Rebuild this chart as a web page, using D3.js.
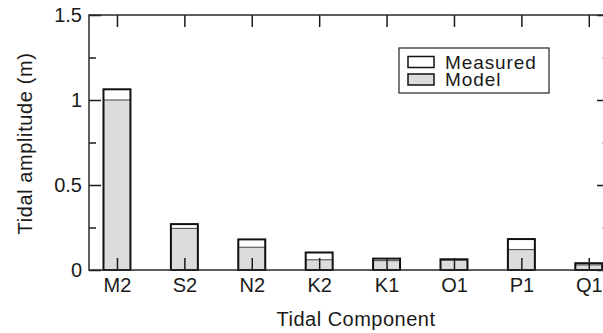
<!DOCTYPE html>
<html>
<head>
<meta charset="utf-8">
<script src="https://cdn.jsdelivr.net/npm/d3@7"></script>
<style>
  html, body { margin: 0; padding: 0; background: #fff; }
  svg { display: block; font-family: "Liberation Sans", Arial, Helvetica, sans-serif; }
</style>
</head>
<body>
<svg id="chart" width="603" height="333"></svg>
<script>
// Tidal constituents and amplitudes (m)
const components = ["M2", "S2", "N2", "K2", "K1", "O1", "P1", "Q1"];
const measured   = [1.063, 0.270, 0.180, 0.103, 0.067, 0.063, 0.182, 0.040];
const model      = [1.000, 0.245, 0.134, 0.060, 0.055, 0.058, 0.120, 0.030];
const yMajorTicks = [0, 0.5, 1, 1.5];
const yMinorTicks = [0.25, 0.75, 1.25];
const seriesNames = ["Measured", "Model"];

(function () {
const ink = "#1a1a1a";
const modelFill = "#dcdcdc";

const svg = d3.select("#chart");
const plotL = 89, plotR = 609, plotT = 15, plotB = 270;

// category k sits at position k+1 on a linear axis
const x = d3.scaleLinear().domain([0.585, 8.3]).range([plotL, plotR]);
const y = d3.scaleLinear().domain([0, 1.5]).range([plotB, plotT]);
const barW = x(1.4) - x(1.0);

const data = components.map((c, i) => ({ c, pos: i + 1, meas: measured[i], mod: model[i] }));

// bars: measured (white) behind, model (grey) in front, measured outline on top
const bars = svg.append("g");
bars.selectAll("rect.meas").data(data).join("rect")
  .attr("x", d => x(d.pos) - barW / 2).attr("width", barW)
  .attr("y", d => y(d.meas)).attr("height", d => y(0) - y(d.meas))
  .attr("fill", "#fff");
bars.selectAll("rect.mod").data(data).join("rect")
  .attr("x", d => x(d.pos) - barW / 2).attr("width", barW)
  .attr("y", d => y(d.mod)).attr("height", d => y(0) - y(d.mod))
  .attr("fill", modelFill).attr("stroke", "#444").attr("stroke-width", 1);
bars.selectAll("rect.outline").data(data).join("rect")
  .attr("x", d => x(d.pos) - barW / 2).attr("width", barW)
  .attr("y", d => y(d.meas)).attr("height", d => y(0) - y(d.meas))
  .attr("fill", "none").attr("stroke", "#111").attr("stroke-width", 2);

function styleAxis(g) {
  g.select(".domain").remove();
  g.selectAll("line").attr("stroke", ink).attr("stroke-width", 1.5);
  g.selectAll("text").attr("fill", ink).attr("font-size", 20);
}

// bottom axis with category labels, ticks pointing inward
svg.append("g").attr("transform", `translate(0,${plotB})`)
  .call(d3.axisBottom(x).tickValues(data.map(d => d.pos))
    .tickFormat((d, i) => components[i]).tickSizeInner(-12).tickSizeOuter(0).tickPadding(8))
  .call(styleAxis);

// top axis ticks
svg.append("g").attr("transform", `translate(0,${plotT})`)
  .call(d3.axisTop(x).tickValues(data.map(d => d.pos)).tickFormat("")
    .tickSizeInner(-12).tickSizeOuter(0))
  .call(styleAxis);

// left axis with labels
svg.append("g").attr("transform", `translate(${plotL},0)`)
  .call(d3.axisLeft(y).tickValues(yMajorTicks).tickFormat(d3.format("~g"))
    .tickSizeInner(-12).tickSizeOuter(0).tickPadding(7))
  .call(styleAxis);
svg.append("g").attr("transform", `translate(${plotL},0)`)
  .call(d3.axisLeft(y).tickValues(yMinorTicks).tickFormat("")
    .tickSizeInner(-7).tickSizeOuter(0))
  .call(styleAxis);

// right axis ticks
svg.append("g").attr("transform", `translate(${plotR},0)`)
  .call(d3.axisRight(y).tickValues(yMajorTicks).tickFormat("")
    .tickSizeInner(-12).tickSizeOuter(0))
  .call(styleAxis);
svg.append("g").attr("transform", `translate(${plotR},0)`)
  .call(d3.axisRight(y).tickValues(yMinorTicks).tickFormat("")
    .tickSizeInner(-7).tickSizeOuter(0))
  .call(styleAxis)
  .selectAll("line").attr("stroke", "#bbb");

// frame
svg.append("rect")
  .attr("x", plotL).attr("y", plotT)
  .attr("width", plotR - plotL).attr("height", plotB - plotT)
  .attr("fill", "none").attr("stroke", "#2a2a2a").attr("stroke-width", 1.5);

// axis titles
svg.append("text")
  .attr("x", 356).attr("y", 326)
  .attr("text-anchor", "middle").attr("font-size", 20).attr("letter-spacing", 0.5)
  .attr("fill", ink)
  .text("Tidal Component");
svg.append("text")
  .attr("transform", `translate(32,${(plotT + plotB) / 2 + 1}) rotate(-90)`)
  .attr("text-anchor", "middle").attr("font-size", 20).attr("letter-spacing", 0.6)
  .attr("fill", ink)
  .text("Tidal amplitude (m)");

// legend
const lg = svg.append("g").attr("transform", "translate(399,48)");
lg.append("rect").attr("width", 150).attr("height", 45)
  .attr("fill", "#fff").attr("stroke", "#333").attr("stroke-width", 1.3);
const legendFills = ["#fff", modelFill];
seriesNames.forEach((name, i) => {
  lg.append("rect").attr("x", 9).attr("y", 8.5 + i * 17.5)
    .attr("width", 26).attr("height", 11)
    .attr("fill", legendFills[i]).attr("stroke", "#111").attr("stroke-width", 1.5);
  lg.append("text").attr("x", 46).attr("y", 20.5 + i * 17.5)
    .attr("font-size", 19).attr("letter-spacing", 0.9)
    .attr("fill", ink).text(name);
});
})();
</script>
</body>
</html>
